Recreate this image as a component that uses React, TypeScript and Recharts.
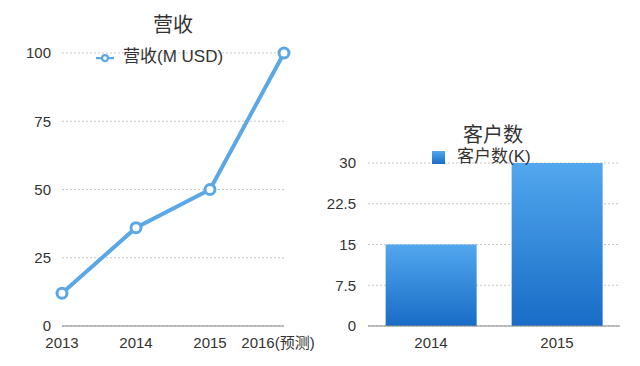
import React from "react";
import {
  LineChart,
  Line,
  BarChart,
  Bar,
  XAxis,
  YAxis,
  CartesianGrid,
  Legend,
} from "recharts";

const revenueYears = ["2013", "2014", "2015", "2016(预测)"];
const revenueValues = [12, 36, 50, 100];
const revenueTicks = [0, 25, 50, 75, 100];

const customerYears = ["2014", "2015"];
const customerValues = [15, 30];
const customerTicks = [0, 7.5, 15, 22.5, 30];

const revenueData = revenueYears.map((year, i) => ({
  year,
  "营收(M USD)": revenueValues[i],
}));

const customerData = customerYears.map((year, i) => ({
  year,
  "客户数(K)": customerValues[i],
}));

const FONT = '"Liberation Sans", "Noto Sans CJK SC", sans-serif';
const tickStyle = { fill: "#333", fontSize: 15, fontFamily: FONT };

const legendText = (gap: number) => (v: string) =>
  <span style={{ color: "#333", marginLeft: gap }}>{v}</span>;

// last year label is pulled in a bit so it fits the panel
const YearTick = (props: any) => {
  const { x, y, payload, index } = props;
  const shift = index === revenueYears.length - 1 ? -6 : 0;
  return (
    <text
      x={x + shift}
      y={y}
      dy="0.71em"
      textAnchor="middle"
      fill="#333"
      fontSize={15}
      fontFamily={FONT}
    >
      {payload.value}
    </text>
  );
};

export default function App() {
  return (
    <div
      style={{
        position: "absolute",
        left: 0,
        top: 0,
        width: 640,
        height: 366,
        background: "#fff",
        fontFamily: FONT,
        overflow: "hidden",
      }}
    >
      <div
        style={{
          position: "absolute",
          left: 133,
          top: 9,
          width: 80,
          textAlign: "center",
          fontSize: 20,
          color: "#333",
        }}
      >
        营收
      </div>
      <div style={{ position: "absolute", left: 0, top: 0 }}>
        <LineChart
          width={330}
          height={366}
          data={revenueData}
          margin={{ top: 53, right: 46, bottom: 10, left: 0 }}
        >
          <CartesianGrid
            vertical={false}
            stroke="#c8c8c8"
            strokeDasharray="2 2"
          />
          <XAxis
            dataKey="year"
            interval={0}
            tickLine={false}
            axisLine={{ stroke: "#888" }}
            tick={<YearTick />}
            tickMargin={5}
            height={30}
          />
          <YAxis
            domain={[0, 100]}
            ticks={revenueTicks}
            width={62}
            tickLine={false}
            axisLine={false}
            tick={tickStyle}
            tickMargin={5}
          />
          <Legend
            iconType="line"
            iconSize={18}
            layout="horizontal"
            verticalAlign="middle"
            align="center"
            wrapperStyle={{
              position: "absolute",
              top: 42,
              left: 96,
              width: "auto",
              fontSize: 17,
              color: "#333",
            }}
            formatter={legendText(5)}
          />
          <Line
            type="linear"
            dataKey="营收(M USD)"
            stroke="#5aa8e8"
            strokeWidth={4}
            dot={{ r: 5, fill: "#fff", stroke: "#5aa8e8", strokeWidth: 3 }}
            isAnimationActive={false}
          />
        </LineChart>
      </div>

      <div
        style={{
          position: "absolute",
          left: 453,
          top: 119,
          width: 80,
          textAlign: "center",
          fontSize: 20,
          color: "#333",
        }}
      >
        客户数
      </div>
      <div style={{ position: "absolute", left: 320, top: 0 }}>
        <BarChart
          width={320}
          height={366}
          data={customerData}
          margin={{ top: 163, right: 20, bottom: 10, left: 0 }}
          barCategoryGap="14%"
        >
          <defs>
            <linearGradient id="barGrad" x1="0" y1="0" x2="0" y2="1">
              <stop offset="0%" stopColor="#52a7ee" />
              <stop offset="100%" stopColor="#186cc6" />
            </linearGradient>
          </defs>
          <CartesianGrid
            vertical={false}
            stroke="#c8c8c8"
            strokeDasharray="2 2"
          />
          <XAxis
            dataKey="year"
            interval={0}
            tickLine={false}
            axisLine={{ stroke: "#888" }}
            tick={tickStyle}
            tickMargin={5}
            height={30}
          />
          <YAxis
            domain={[0, 30]}
            ticks={customerTicks}
            width={48}
            tickLine={false}
            axisLine={false}
            tick={tickStyle}
            tickMargin={6}
          />
          <Legend
            iconType="square"
            iconSize={13}
            layout="horizontal"
            verticalAlign="middle"
            align="center"
            wrapperStyle={{
              position: "absolute",
              top: 142,
              left: 112,
              width: "auto",
              fontSize: 17,
              color: "#333",
            }}
            formatter={legendText(8)}
          />
          <Bar
            dataKey="客户数(K)"
            fill="url(#barGrad)"
            isAnimationActive={false}
          />
        </BarChart>
      </div>
    </div>
  );
}
